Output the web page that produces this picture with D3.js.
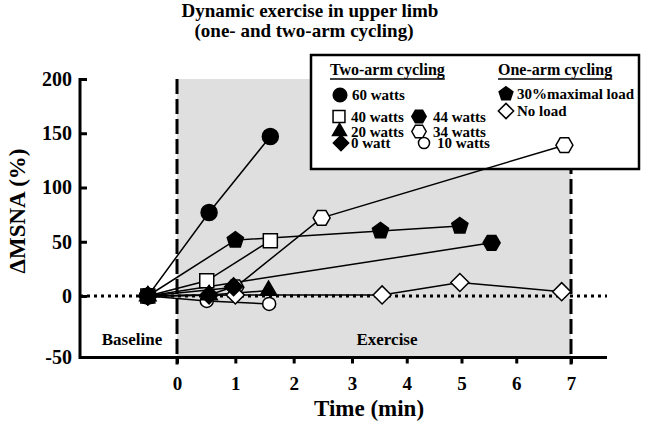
<!DOCTYPE html>
<html lang="en">
<head>
<meta charset="UTF-8">
<title>Dynamic exercise in upper limb</title>
<style>
  body { margin: 0; background: #fff; }
</style>
</head>
<body>
<div id="chart"></div>
<script src="https://cdn.jsdelivr.net/npm/d3@7"></script>
<script>
// data: [time (min), ΔMSNA (%)]
const w60 = [[-0.5, 0], [0.55, 77], [1.6, 147]];
const w40 = [[-0.5, 0], [0.51, 14], [1.6, 51]];
const w20 = [[-0.5, 0], [0.55, 1], [1.57, 5]];
const w0 = [[-0.5, 0], [0.55, 1], [0.97, 8.5]];
const w44 = [[-0.5, 0], [5.55, 49]];
const w34 = [[-0.5, 0], [1.0, 8], [2.48, 72], [6.88, 139]];
const w10 = [[-0.5, 0], [0.51, -4], [1.58, -6.5]];
const maxLoad30 = [[-0.5, 0], [1.0, 51.5], [3.52, 60], [4.97, 64.5]];
const noLoad = [[-0.5, 0], [1.0, 1], [3.55, 1], [4.97, 12.5], [6.83, 4]];

const xTicks = [0, 1, 2, 3, 4, 5, 6, 7];
const yTicks = [-50, 0, 50, 100, 150, 200];

const W = 646, H = 427;
const FONT = '"Liberation Serif", "DejaVu Serif", "Times New Roman", serif';

// scales (axis in the figure is slightly uneven, so a couple of anchor points)
const x = d3.scaleLinear().domain([0, 3, 7]).range([177, 352, 571]);
const y = d3.scaleLinear().domain([-50, 0, 200]).range([357, 296, 79]);
const AXIS_X = 80, AXIS_Y = 357.5, AXIS_RIGHT = 607;

// marker shapes
function poly(n, r, rot) {
  return "M" + d3.range(n).map(i => {
    const a = rot + i * 2 * Math.PI / n;
    return (r * Math.cos(a)).toFixed(2) + "," + (r * Math.sin(a)).toFixed(2);
  }).join("L") + "Z";
}
function circ(r) {
  return `M${r},0A${r},${r} 0 1,1 ${-r},0A${r},${r} 0 1,1 ${r},0Z`;
}
const shapes = {
  circle: k => circ(8 * k),
  square: k => poly(4, 9.9 * k, Math.PI / 4),
  triangle: k => poly(3, 9.5 * k, -Math.PI / 2),
  diamond: k => poly(4, 9 * k, 0),
  hexagon: k => poly(6, 8.5 * k, 0),
  pentagon: k => poly(5, 8.5 * k, -Math.PI / 2),
  smallCircle: k => circ(6.5 * k)
};

const series = [
  { name: "40 watts", data: w40, shape: "square", fill: "#fff" },
  { name: "34 watts", data: w34, shape: "hexagon", fill: "#fff" },
  { name: "10 watts", data: w10, shape: "smallCircle", fill: "#fff" },
  { name: "No load", data: noLoad, shape: "diamond", fill: "#fff" },
  { name: "60 watts", data: w60, shape: "circle", fill: "#000" },
  { name: "20 watts", data: w20, shape: "triangle", fill: "#000" },
  { name: "0 watt", data: w0, shape: "diamond", fill: "#000" },
  { name: "44 watts", data: w44, shape: "hexagon", fill: "#000" },
  { name: "30%maximal load", data: maxLoad30, shape: "pentagon", fill: "#000" }
];

const svg = d3.select("#chart").append("svg")
  .attr("width", W).attr("height", H);

function label(g, px, py, size, txt, anchor) {
  return g.append("text")
    .attr("x", px).attr("y", py)
    .attr("text-anchor", anchor || "start")
    .attr("font-family", FONT).attr("font-weight", "bold")
    .attr("font-size", size).attr("fill", "#000")
    .text(txt);
}

// exercise period shading
svg.append("rect")
  .attr("x", x(0)).attr("y", y(200))
  .attr("width", x(7) - x(0)).attr("height", y(-50) - y(200))
  .attr("fill", "#dfdfdf");

// dashed start / end of exercise
[0, 7].forEach(t => {
  svg.append("line")
    .attr("x1", x(t)).attr("x2", x(t))
    .attr("y1", y(200)).attr("y2", AXIS_Y + 7)
    .attr("stroke", "#000").attr("stroke-width", 3)
    .attr("stroke-dasharray", "15,5");
});

// dotted zero line
svg.append("line")
  .attr("x1", AXIS_X).attr("x2", AXIS_RIGHT)
  .attr("y1", y(0)).attr("y2", y(0))
  .attr("stroke", "#000").attr("stroke-width", 3)
  .attr("stroke-dasharray", "3,4");

// axes
const plain = d => String(d);
const xAxis = svg.append("g")
  .attr("transform", `translate(0,${AXIS_Y})`)
  .call(d3.axisBottom(x).tickValues(xTicks).tickFormat(plain).tickSize(6).tickPadding(13));
xAxis.select(".domain").remove();
xAxis.selectAll(".tick line").attr("stroke", "#000").attr("stroke-width", 3);
xAxis.selectAll(".tick text")
  .attr("font-family", FONT).attr("font-weight", "bold").attr("font-size", 19).attr("fill", "#000");
xAxis.attr("font-family", FONT).attr("font-size", 19);

const yAxis = svg.append("g")
  .attr("transform", `translate(${AXIS_X},0)`)
  .call(d3.axisLeft(y).tickValues(yTicks).tickFormat(plain).tickSizeInner(-7).tickSizeOuter(0).tickPadding(8));
yAxis.select(".domain").remove();
yAxis.selectAll(".tick line").attr("stroke", "#000").attr("stroke-width", 3);
yAxis.selectAll(".tick text")
  .attr("font-family", FONT).attr("font-weight", "bold").attr("font-size", 20).attr("fill", "#000");
yAxis.attr("font-family", FONT).attr("font-size", 20);

svg.append("line")
  .attr("x1", AXIS_X).attr("x2", AXIS_RIGHT)
  .attr("y1", AXIS_Y).attr("y2", AXIS_Y)
  .attr("stroke", "#000").attr("stroke-width", 3);
svg.append("line")
  .attr("x1", AXIS_X).attr("x2", AXIS_X)
  .attr("y1", y(200) - 1).attr("y2", AXIS_Y + 1.5)
  .attr("stroke", "#000").attr("stroke-width", 3);

// axis titles
label(svg, 369, 416, 23, "Time (min)", "middle");
label(svg, 0, 0, 23, "ΔMSNA (%)", "middle")
  .attr("transform", "translate(25,211) rotate(-90)");

// period labels
label(svg, 132, 345, 17, "Baseline", "middle");
label(svg, 387, 345, 17, "Exercise", "middle");

// title
label(svg, 310, 17, 19, "Dynamic exercise in upper limb", "middle");
label(svg, 304, 37, 19, "(one- and two-arm cycling)", "middle");

// legend
const legend = svg.append("g");
legend.append("rect")
  .attr("x", 311).attr("y", 55).attr("width", 328).attr("height", 114)
  .attr("fill", "#fff").attr("stroke", "#000").attr("stroke-width", 2.5);

const headers = [
  { text: "Two-arm cycling", x: 330 },
  { text: "One-arm cycling", x: 498 }
];
headers.forEach(h => {
  const t = label(legend, h.x, 74.5, 16, h.text);
  const w = t.node().getComputedTextLength();
  legend.append("line")
    .attr("x1", h.x).attr("x2", h.x + w)
    .attr("y1", 79).attr("y2", 79)
    .attr("stroke", "#000").attr("stroke-width", 1.5);
});

const legendPos = {
  "60 watts": [340, 95, 352],
  "40 watts": [339, 116.5, 351],
  "20 watts": [339.5, 131.5, 351],
  "0 watt": [341, 143, 351],
  "44 watts": [419, 116.5, 433],
  "34 watts": [419, 131.5, 433],
  "10 watts": [424, 143, 437],
  "30%maximal load": [506, 94, 517],
  "No load": [506, 111, 517]
};
series.forEach(s => {
  const [sx, sy, tx] = legendPos[s.name];
  legend.append("path")
    .attr("transform", `translate(${sx},${sy})`)
    .attr("d", shapes[s.shape](0.85))
    .attr("fill", s.fill).attr("stroke", "#000").attr("stroke-width", 1.5);
  label(legend, tx, sy + 5, 15, s.name);
});

// series lines
const line = d3.line().x(d => x(d[0])).y(d => y(d[1]));
svg.append("g").selectAll("path")
  .data(series)
  .join("path")
  .attr("d", d => line(d.data))
  .attr("fill", "none").attr("stroke", "#000").attr("stroke-width", 1.5);

// markers
const marks = svg.append("g");
series.forEach(s => {
  marks.selectAll(null)
    .data(s.data)
    .join("path")
    .attr("transform", d => `translate(${x(d[0])},${y(d[1])})`)
    .attr("d", shapes[s.shape](1))
    .attr("fill", s.fill).attr("stroke", "#000").attr("stroke-width", 1.5);
});
</script>
</body>
</html>
